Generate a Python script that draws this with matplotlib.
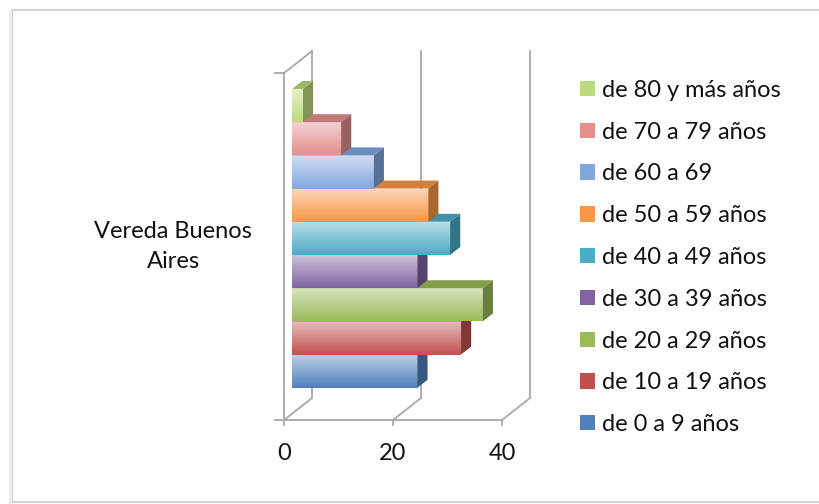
import numpy as np
import matplotlib.pyplot as plt
import matplotlib.colors as mcolors
from matplotlib.patches import Polygon, Rectangle

plt.rcParams['font.family'] = ['Lato', 'DejaVu Sans']

# data
category = "Vereda Buenos\nAires"
groups = ["de 0 a 9 años", "de 10 a 19 años", "de 20 a 29 años", "de 30 a 39 años",
          "de 40 a 49 años", "de 50 a 59 años", "de 60 a 69", "de 70 a 79 años",
          "de 80 y más años"]
values = [23, 31, 35, 23, 29, 25, 15, 9, 2]
colors = ["#4F81BD", "#C0504D", "#9BBB59", "#8064A2", "#4BACC6", "#F79646",
          "#82A6DE", "#E28F8D", "#BCDA7A"]
xticks = [0, 20, 40]

# fake 3d geometry (data units)
depth = np.array([5.14, 0.663])      # full floor depth
d_front, d_back = 0.29, 0.65         # bar depth position inside the floor
y_floor, y_top = -0.78, 9.67
grid_c = "#a8a8a8"
fs = 17


def tint(c, f):
    r = np.array(mcolors.to_rgb(c))
    return tuple(r + (1 - r) * f)


def shade(c, f):
    return tuple(np.array(mcolors.to_rgb(c)) * f)


fig = plt.figure(figsize=(8.19, 5.04), dpi=100)
ax = fig.add_axes([284 / 819, 84 / 504, 245 / 819, 11.28 * 33.2 / 504])
ax.set_xlim(0, 245 / 5.45)
ax.set_ylim(y_floor, y_floor + 11.28)
ax.axis('off')

# frame around the picture
fig.patches.append(Rectangle((12 / 819, 2 / 504), 900 / 819, 492 / 504, transform=fig.transFigure,
                             fill=False, ec="#d4d4d4", lw=1.6))
fig.patches.append(Rectangle((9 / 819, 0), 2.5 / 819, 494 / 504, transform=fig.transFigure,
                             color="#ececec", lw=0))

dx, dy = depth
# walls and gridlines
ax.plot([0, 0], [y_floor, y_top], color=grid_c, lw=1.3, clip_on=False)
ax.plot([dx, dx], [y_floor + dy, y_top + dy], color=grid_c, lw=1.3, clip_on=False)
ax.plot([0, dx], [y_top, y_top + dy], color=grid_c, lw=1.3, clip_on=False)
ax.plot([0, xticks[-1]], [y_floor, y_floor], color=grid_c, lw=1.3, clip_on=False)
for t in xticks:
    ax.plot([t, t + dx], [y_floor, y_floor + dy], color=grid_c, lw=1.3, clip_on=False)
    ax.plot([t, t], [y_floor, y_floor - 0.15], color=grid_c, lw=1.3, clip_on=False)
    if t > 0:
        ax.plot([t + dx, t + dx], [y_floor + dy, y_top + dy], color=grid_c, lw=1.3, clip_on=False)
    ax.text(t, y_floor - 1.02, str(t), ha='center', va='center', fontsize=fs, color="#111111")
for yy in [y_floor, y_top]:
    ax.plot([-1.6, 0], [yy, yy], color=grid_c, lw=1.3, clip_on=False)

ax.text(-20.3, 4.45, category, ha='center', va='center', fontsize=fs,
        color="#111111", linespacing=1.55)

# bars, bottom to top so upper bars hide lower top faces
x0 = d_front * dx
y0 = d_front * dy
bx = (d_back - d_front) * dx
by = (d_back - d_front) * dy
handles = []
for i, (g, v, c) in enumerate(zip(groups, values, colors)):
    z = 3 + i * 0.1
    bar = ax.barh(i + y0 + 0.5, v, height=1, left=x0, color=c, label=g, zorder=z, lw=0)
    handles.append(bar)
    rect = bar.patches[0]
    grad = np.linspace(0, 1, 64)
    cols = np.array([tint(c, 0.62 * (1 - g_)) for g_ in grad])[:, None, :]
    im = ax.imshow(cols, extent=[x0, x0 + v, i + y0, i + y0 + 1], aspect='auto',
                   origin='upper', zorder=z + 0.01, interpolation='bilinear')
    im.set_clip_path(rect)
    top = Polygon([[x0, i + 1 + y0], [x0 + v, i + 1 + y0], [x0 + v + bx, i + 1 + y0 + by],
                   [x0 + bx, i + 1 + y0 + by]], closed=True, fc=shade(c, 0.85), ec='none', zorder=z + 0.02)
    side = Polygon([[x0 + v, i + y0], [x0 + v + bx, i + y0 + by], [x0 + v + bx, i + 1 + y0 + by],
                    [x0 + v, i + 1 + y0]], closed=True, fc=shade(c, 0.68), ec='none', zorder=z + 0.02)
    ax.add_patch(top)
    ax.add_patch(side)

leg = fig.legend(handles[::-1], groups[::-1], loc='upper left', bbox_to_anchor=(561 / 819, 1 - 61 / 504),
                 frameon=False, fontsize=fs, handlelength=0.62, handleheight=0.62,
                 handletextpad=0.32, labelspacing=0.88, borderpad=0.3)
for t in leg.get_texts():
    t.set_color("#111111")

fig.savefig("out.png", dpi=100, facecolor="white")
